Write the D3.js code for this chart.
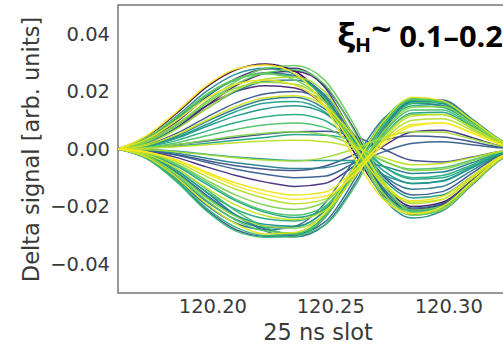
<!DOCTYPE html>
<html>
<head>
<meta charset="utf-8">
<script src="https://cdn.jsdelivr.net/npm/d3@7"></script>
<style>
  html, body { margin: 0; padding: 0; background: #fff; }
  svg { display: block; }
</style>
</head>
<body>
<svg id="chart" width="503" height="345"></svg>
<script>
// ---- data ----
const slots = [120.160, 120.1725, 120.185, 120.1975, 120.210, 120.2225, 120.235, 120.2475,
               120.260, 120.2725, 120.285, 120.2975, 120.310, 120.3225, 120.335];

const posFirstLobe = [
  [0, 0.0045, 0.0125, 0.0215, 0.0275, 0.0295, 0.0270, 0.0170, -0.0010, -0.0160, -0.0210, -0.0190, -0.0110, -0.0030, 0],
  [0, 0.0025, 0.0085, 0.0165, 0.0235, 0.0280, 0.0290, 0.0240, 0.0085, -0.0110, -0.0220, -0.0205, -0.0120, -0.0035, 0],
  [0, 0.0040, 0.0115, 0.0200, 0.0260, 0.0280, 0.0260, 0.0180, 0.0010, -0.0170, -0.0240, -0.0215, -0.0125, -0.0035, 0],
  [0, 0.0020, 0.0075, 0.0150, 0.0220, 0.0262, 0.0270, 0.0220, 0.0070, -0.0120, -0.0200, -0.0185, -0.0110, -0.0030, 0],
  [0, 0.0042, 0.0112, 0.0190, 0.0243, 0.0260, 0.0240, 0.0165, 0.0005, -0.0165, -0.0230, -0.0210, -0.0122, -0.0032, 0],
  [0, 0.0018, 0.0070, 0.0140, 0.0205, 0.0243, 0.0250, 0.0200, 0.0045, -0.0120, -0.0190, -0.0175, -0.0100, -0.0025, 0],
  [0, 0.0035, 0.0100, 0.0175, 0.0225, 0.0240, 0.0222, 0.0150, 0.0010, -0.0125, -0.0180, -0.0165, -0.0095, -0.0025, 0],
  [0, 0.0028, 0.0085, 0.0150, 0.0200, 0.0220, 0.0212, 0.0150, 0.0010, -0.0150, -0.0210, -0.0195, -0.0115, -0.0030, 0],
  [0, 0.0015, 0.0055, 0.0110, 0.0160, 0.0192, 0.0200, 0.0165, 0.0050, -0.0095, -0.0160, -0.0148, -0.0085, -0.0020, 0],
  [0, 0.0012, 0.0045, 0.0095, 0.0140, 0.0172, 0.0180, 0.0140, 0.0035, -0.0090, -0.0140, -0.0130, -0.0075, -0.0018, 0],
  [0, 0.0010, 0.0038, 0.0078, 0.0115, 0.0140, 0.0150, 0.0125, 0.0030, -0.0075, -0.0120, -0.0110, -0.0065, -0.0015, 0],
  [0, 0.0008, 0.0030, 0.0062, 0.0092, 0.0112, 0.0120, 0.0100, 0.0025, -0.0060, -0.0100, -0.0092, -0.0055, -0.0012, 0],
  [0, 0.0006, 0.0022, 0.0046, 0.0068, 0.0084, 0.0090, 0.0075, 0.0020, -0.0042, -0.0070, -0.0065, -0.0038, -0.0010, 0],
  [0, 0.0004, 0.0015, 0.0030, 0.0045, 0.0055, 0.0060, 0.0050, 0.0012, -0.0040, -0.0075, -0.0070, -0.0042, -0.0010, 0],
  [0, 0.0002, 0.0008, 0.0015, 0.0022, 0.0028, 0.0030, 0.0025, 0.0005, -0.0030, -0.0055, -0.0050, -0.0030, -0.0008, 0],
  [0, 0.0048, 0.0130, 0.0220, 0.0278, 0.0292, 0.0262, 0.0150, -0.0030, -0.0175, -0.0225, -0.0200, -0.0115, -0.0030, 0],
  [0, 0.0030, 0.0095, 0.0180, 0.0245, 0.0278, 0.0280, 0.0215, 0.0040, -0.0145, -0.0228, -0.0212, -0.0125, -0.0035, 0],
  [0, 0.0038, 0.0108, 0.0188, 0.0242, 0.0265, 0.0255, 0.0185, 0.0025, -0.0140, -0.0205, -0.0190, -0.0110, -0.0030, 0],
  [0, 0.0022, 0.0072, 0.0140, 0.0200, 0.0235, 0.0240, 0.0190, 0.0040, -0.0135, -0.0215, -0.0200, -0.0118, -0.0032, 0],
  [0, 0.0010, 0.0040, 0.0085, 0.0130, 0.0160, 0.0165, 0.0130, 0.0030, -0.0105, -0.0170, -0.0160, -0.0095, -0.0025, 0],
  [0, 0.0036, 0.0105, 0.0185, 0.0240, 0.0262, 0.0250, 0.0175, 0.0020, -0.0150, -0.0218, -0.0200, -0.0118, -0.0032, 0],
  [0, 0.0026, 0.0082, 0.0158, 0.0225, 0.0265, 0.0275, 0.0225, 0.0065, -0.0125, -0.0212, -0.0198, -0.0115, -0.0032, 0],
  [0, 0.0030, 0.0088, 0.0160, 0.0212, 0.0232, 0.0225, 0.0165, 0.0020, -0.0155, -0.0225, -0.0210, -0.0122, -0.0034, 0],
  [0, 0.0014, 0.0050, 0.0100, 0.0148, 0.0178, 0.0185, 0.0150, 0.0040, -0.0115, -0.0185, -0.0175, -0.0102, -0.0028, 0]
];

const negFirstLobe = [
  [0, -0.0035, -0.0115, -0.0215, -0.0285, -0.0306, -0.0305, -0.0235, -0.0070, 0.0100, 0.0175, 0.0165, 0.0100, 0.0030, 0],
  [0, -0.0020, -0.0075, -0.0150, -0.0230, -0.0285, -0.0305, -0.0265, -0.0125, 0.0060, 0.0170, 0.0170, 0.0105, 0.0030, 0],
  [0, -0.0030, -0.0100, -0.0190, -0.0260, -0.0295, -0.0290, -0.0225, -0.0065, 0.0095, 0.0180, 0.0168, 0.0100, 0.0028, 0],
  [0, -0.0018, -0.0068, -0.0140, -0.0215, -0.0272, -0.0298, -0.0265, -0.0135, 0.0050, 0.0160, 0.0162, 0.0100, 0.0028, 0],
  [0, -0.0032, -0.0105, -0.0195, -0.0258, -0.0280, -0.0268, -0.0190, -0.0040, 0.0105, 0.0160, 0.0150, 0.0090, 0.0025, 0],
  [0, -0.0025, -0.0085, -0.0165, -0.0230, -0.0262, -0.0268, -0.0215, -0.0070, 0.0085, 0.0165, 0.0158, 0.0095, 0.0025, 0],
  [0, -0.0022, -0.0075, -0.0150, -0.0210, -0.0242, -0.0250, -0.0205, -0.0075, 0.0075, 0.0150, 0.0145, 0.0088, 0.0024, 0],
  [0, -0.0015, -0.0055, -0.0115, -0.0175, -0.0215, -0.0230, -0.0200, -0.0085, 0.0055, 0.0135, 0.0135, 0.0082, 0.0022, 0],
  [0, -0.0015, -0.0052, -0.0108, -0.0160, -0.0195, -0.0210, -0.0185, -0.0080, 0.0045, 0.0120, 0.0120, 0.0072, 0.0020, 0],
  [0, -0.0012, -0.0045, -0.0095, -0.0140, -0.0172, -0.0190, -0.0175, -0.0085, 0.0030, 0.0100, 0.0105, 0.0065, 0.0018, 0],
  [0, -0.0010, -0.0038, -0.0080, -0.0118, -0.0145, -0.0160, -0.0150, -0.0075, 0.0025, 0.0085, 0.0090, 0.0055, 0.0015, 0],
  [0, -0.0008, -0.0030, -0.0062, -0.0092, -0.0115, -0.0130, -0.0120, -0.0060, 0.0010, 0.0060, 0.0065, 0.0040, 0.0010, 0],
  [0, -0.0006, -0.0022, -0.0046, -0.0070, -0.0088, -0.0100, -0.0095, -0.0050, -0.0010, 0.0020, 0.0025, 0.0015, 0.0004, 0],
  [0, -0.0004, -0.0015, -0.0032, -0.0048, -0.0060, -0.0068, -0.0065, -0.0045, -0.0060, -0.0085, -0.0080, -0.0048, -0.0012, 0],
  [0, -0.0002, -0.0008, -0.0018, -0.0028, -0.0035, -0.0040, -0.0040, -0.0040, -0.0090, -0.0120, -0.0112, -0.0065, -0.0016, 0],
  [0, -0.0033, -0.0110, -0.0205, -0.0272, -0.0300, -0.0295, -0.0232, -0.0060, 0.0095, 0.0170, 0.0162, 0.0098, 0.0028, 0],
  [0, -0.0028, -0.0092, -0.0178, -0.0248, -0.0285, -0.0292, -0.0240, -0.0085, 0.0085, 0.0172, 0.0165, 0.0100, 0.0028, 0],
  [0, -0.0026, -0.0088, -0.0170, -0.0235, -0.0268, -0.0275, -0.0228, -0.0095, 0.0060, 0.0145, 0.0148, 0.0090, 0.0024, 0],
  [0, -0.0020, -0.0068, -0.0135, -0.0195, -0.0232, -0.0245, -0.0215, -0.0100, 0.0035, 0.0115, 0.0120, 0.0075, 0.0020, 0],
  [0, -0.0012, -0.0040, -0.0085, -0.0128, -0.0158, -0.0175, -0.0165, -0.0090, 0.0015, 0.0080, 0.0090, 0.0058, 0.0016, 0],
  [0, -0.0034, -0.0112, -0.0210, -0.0280, -0.0303, -0.0300, -0.0240, -0.0080, 0.0090, 0.0168, 0.0160, 0.0096, 0.0027, 0],
  [0, -0.0024, -0.0082, -0.0160, -0.0232, -0.0278, -0.0295, -0.0255, -0.0110, 0.0070, 0.0165, 0.0165, 0.0100, 0.0028, 0],
  [0, -0.0030, -0.0098, -0.0182, -0.0245, -0.0272, -0.0270, -0.0215, -0.0075, 0.0080, 0.0158, 0.0152, 0.0092, 0.0025, 0],
  [0, -0.0018, -0.0060, -0.0122, -0.0180, -0.0220, -0.0238, -0.0210, -0.0095, 0.0045, 0.0125, 0.0128, 0.0078, 0.0021, 0]
];

const smallSignals = [
  [0, 0.0005, 0.0015, 0.0028, 0.0040, 0.0052, 0.0060, 0.0062, 0.0045, 0.0000, -0.0040, -0.0045, -0.0028, -0.0008, 0],
  [0, -0.0003, -0.0010, -0.0020, -0.0030, -0.0038, -0.0042, -0.0030, 0.0000, 0.0040, 0.0060, 0.0058, 0.0035, 0.0010, 0],
  [0, 0.0003, 0.0010, 0.0020, 0.0030, 0.0040, 0.0050, 0.0048, 0.0030, -0.0060, -0.0105, -0.0100, -0.0060, -0.0015, 0],
  [0, -0.0005, -0.0020, -0.0040, -0.0058, -0.0070, -0.0075, -0.0060, -0.0020, 0.0030, 0.0045, 0.0042, 0.0025, 0.0006, 0]
];

const yTicks = [-0.04, -0.02, 0.00, 0.02, 0.04];
const xTicks = [120.20, 120.25, 120.30];
const xLabel = "25 ns slot";
const yLabel = "Delta signal [arb. units]";

// ---- layout ----
const svg = d3.select("#chart");
const mLeft = 118, mTop = 5, mRight = 519, mBottom = 293;

const x = d3.scaleLinear().domain([120.16, 120.33]).range([mLeft, mRight]);
const y = d3.scaleLinear().domain([-0.05, 0.05]).range([mBottom, mTop]);

// frame
svg.append("rect")
  .attr("x", mLeft).attr("y", mTop)
  .attr("width", mRight - mLeft).attr("height", mBottom - mTop)
  .attr("fill", "none").attr("stroke", "#7f7f7f").attr("stroke-width", 1.6);

// interleave series, then order so colour rank = drawing order (later = on top)
const interleaved = [];
const nMax = Math.max(posFirstLobe.length, negFirstLobe.length);
for (let i = 0; i < nMax; i++) {
  if (posFirstLobe[i]) interleaved.push(posFirstLobe[i]);
  if (negFirstLobe[i]) interleaved.push(negFirstLobe[i]);
  if (smallSignals[i]) interleaved.push(smallSignals[i]);
}
const n = interleaved.length;
const series = interleaved
  .map((values, i) => ({ values, rank: (i * 29) % n }))
  .sort((a, b) => a.rank - b.rank);
const color = d3.scaleSequentialPow(d3.interpolateViridis).exponent(0.7).domain([0, n - 1]);

const line = d3.line()
  .x((d, i) => x(slots[i]))
  .y(d => y(d))
  .curve(d3.curveMonotoneX);

svg.append("clipPath").attr("id", "plotclip")
  .append("rect").attr("x", mLeft - 2).attr("y", mTop).attr("width", mRight - mLeft + 4).attr("height", mBottom - mTop);

svg.append("g")
  .attr("clip-path", "url(#plotclip)")
  .selectAll("path")
  .data(series)
  .join("path")
  .attr("d", d => line(d.values))
  .attr("fill", "none")
  .attr("stroke", d => color(d.rank))
  .attr("stroke-width", 1.5)
  .attr("stroke-opacity", 0.95);

// axes
const tickFont = "'DejaVu Sans', sans-serif";
const yAxis = svg.append("g")
  .attr("transform", `translate(${mLeft},0)`)
  .call(d3.axisLeft(y).tickValues(yTicks).tickFormat(d3.format(".2f")).tickSize(0).tickPadding(8));
yAxis.select(".domain").remove();
yAxis.selectAll("text").attr("font-family", tickFont).attr("font-size", 19.5).attr("fill", "#3a3a3a");

const xAxis = svg.append("g")
  .attr("transform", `translate(0,${mBottom})`)
  .call(d3.axisBottom(x).tickValues(xTicks).tickFormat(d3.format(".2f")).tickSize(0).tickPadding(6));
xAxis.select(".domain").remove();
xAxis.selectAll("text").attr("font-family", tickFont).attr("font-size", 19.5).attr("fill", "#3a3a3a");

// axis labels
svg.append("text")
  .attr("x", 318).attr("y", 339.5)
  .attr("text-anchor", "middle")
  .attr("font-family", tickFont).attr("font-size", 22.5).attr("fill", "#3a3a3a")
  .text(xLabel);

svg.append("text")
  .attr("transform", `translate(38.5,149.5) rotate(-90)`)
  .attr("text-anchor", "middle")
  .attr("font-family", tickFont).attr("font-size", 22.5).attr("fill", "#3a3a3a")
  .text(yLabel);

// annotation
const ann = svg.append("text")
  .attr("x", 0).attr("y", 47)
  .attr("font-family", "'Open Sans', Lato, sans-serif")
  .attr("font-weight", 700).attr("fill", "#000");
ann.append("tspan").attr("font-size", 33).text("ξ");
ann.append("tspan").attr("font-size", 19).attr("dy", 5).text("H");
ann.append("tspan").attr("font-size", 32).attr("dy", -11).text("~");
ann.append("tspan").attr("font-size", 28).attr("dy", 6).text(" 0.1–0.2");
const bb = ann.node().getBBox();
const sx = (503 - 337) / bb.width;
ann.attr("transform", `translate(337,0) scale(${sx},1) translate(${-bb.x},0)`);
</script>
</body>
</html>
